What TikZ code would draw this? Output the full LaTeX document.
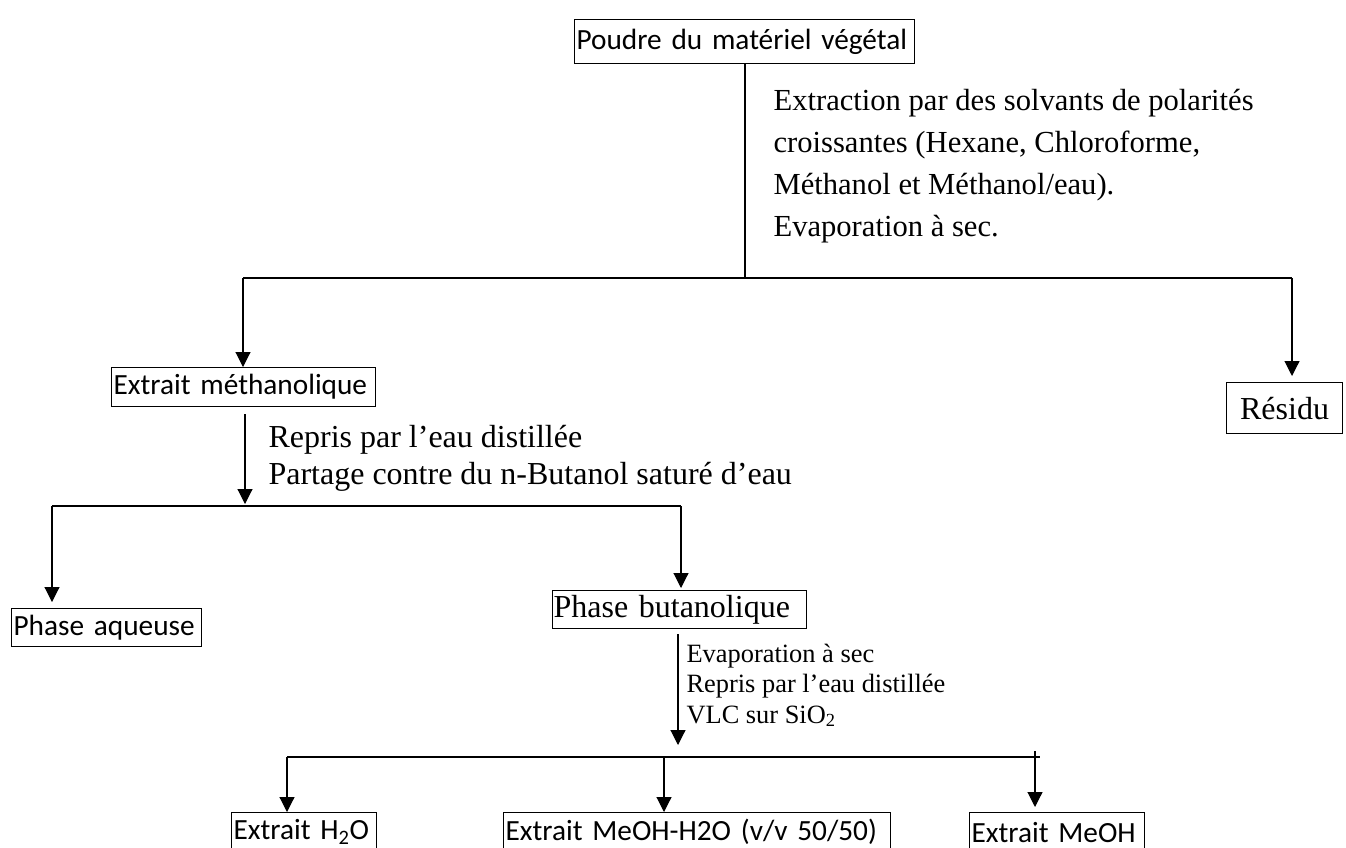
\documentclass[tikz,border=0pt]{standalone}
\usepackage{fontspec}
\setmainfont{Liberation Serif}
\newfontfamily\calibri{Carlito}
\usetikzlibrary{arrows.meta}
\begin{document}
\begin{tikzpicture}[x=1pt,y=-1pt,line width=1.1pt,
  arr/.style={-{Triangle[width=15pt,length=15pt]}},
  box/.style={draw, anchor=north west, inner xsep=2pt, inner ysep=0pt, align=left},
  sans/.style={font=\calibri\fontsize{29.3}{35}\selectfont},
  serifbig/.style={font=\fontsize{32}{42}\selectfont},
  serifext/.style={font=\fontsize{30.6}{42}\selectfont},
  serifmid/.style={font=\fontsize{32}{37}\selectfont},
  serifsmall/.style={font=\fontsize{26.4}{30.5}\selectfont},
  note/.style={anchor=base west, align=left, inner sep=0pt}]
\useasboundingbox (0,0) rectangle (1346,847);
\clip (0,0) rectangle (1346,847);

% boxes
\node[box, sans, text width=336pt, minimum height=44pt] (top) at (574,19) {Poudre du matériel végétal};
\node[box, sans, text width=260pt, minimum height=39pt] (meth) at (111,367) {Extrait méthanolique};
\node[draw, anchor=north west, serifbig, minimum width=116pt, minimum height=51pt, inner sep=0pt] (residu) at (1226,382) {Résidu};
\node[box, sans, text width=186pt, minimum height=38pt] (aqueuse) at (11,608) {Phase aqueuse};
\node[box, serifbig, inner xsep=1pt, text width=252pt, minimum height=38pt] (butan) at (552,590) {Phase butanolique};
\node[box, sans, text width=141pt, minimum height=39pt] (h2o) at (231,812) {Extrait H\textsubscript{2}O};
\node[box, sans, text width=383pt, minimum height=39pt] (mix) at (503,812) {Extrait MeOH-H2O (v/v 50/50)};
\node[box, sans, text width=171pt, minimum height=39pt] (meoh) at (969,812) {Extrait MeOH};

% step notes (anchored on the baseline of their last line)
\node[note, serifext] (extr) at (773,236) {Extraction par des solvants de polarités\\croissantes (Hexane, Chloroforme,\\Méthanol et Méthanol/eau).\\Evaporation à sec.};
\node[note, serifmid] (repris) at (268,484) {Repris par l’eau distillée\\Partage contre du n-Butanol saturé d’eau};
\node[note, serifsmall] (evap) at (686,723) {Evaporation à sec\\Repris par l’eau distillée\\VLC sur SiO\textsubscript{2}};

% first split
\coordinate (s1) at (745,278);
\coordinate (s1l) at (243,278);
\coordinate (s1r) at (1292,278);
\draw (top.south -| s1) -- (s1);
\draw (s1l) -- (s1r);
\draw[arr] (s1l) -- (s1l |- meth.north);
\draw[arr, shorten >=6pt] (s1r) -- (s1r |- residu.north);

% second split
\coordinate (s2) at (245,506);
\coordinate (s2l) at (52,506);
\coordinate (s2r) at (681,506);
\draw[arr, shorten <=7pt, shorten >=2pt] (meth.south -| s2) -- (s2);
\draw (s2l) -- (s2r);
\draw[arr, shorten >=6pt] (s2l) -- (s2l |- aqueuse.north);
\draw[arr, shorten >=2pt] (s2r) -- (s2r |- butan.north);

% third split
\coordinate (s3) at (678,757);
\coordinate (s3l) at (287,757);
\coordinate (s3r) at (1040,757);
\coordinate (m3) at (664,757);
\coordinate (r3) at (1035,751);
\draw[arr, shorten <=5pt, shorten >=12pt] (butan.south -| s3) -- (s3);
\draw (s3l) -- (s3r);
\draw[arr] (s3l) -- (s3l |- h2o.north);
\draw[arr] (m3) -- (m3 |- mix.north);
\draw[arr, shorten >=5pt] (r3) -- (r3 |- meoh.north);
\end{tikzpicture}
\end{document}
